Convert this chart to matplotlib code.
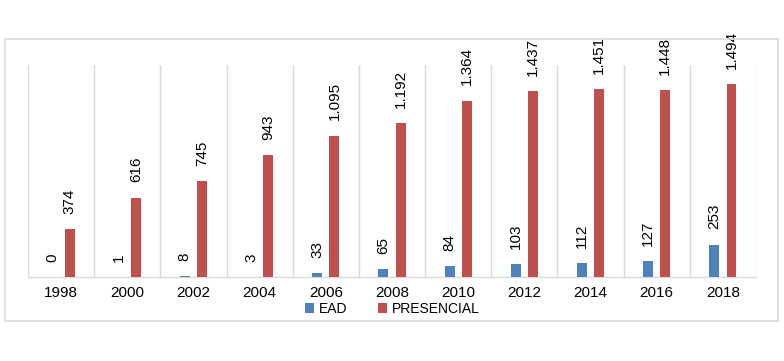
import numpy as np
import matplotlib.pyplot as plt
from matplotlib.patches import Rectangle

# data
years = ['1998', '2000', '2002', '2004', '2006', '2008', '2010', '2012', '2014', '2016', '2018']
ead = [0, 1, 8, 3, 33, 65, 84, 103, 112, 127, 253]
presencial = [374, 616, 745, 943, 1095, 1192, 1364, 1437, 1451, 1448, 1494]

blue = '#4F81BD'
red = '#C0504D'
grid_gray = '#D9D9D9'

plt.rcParams['font.family'] = ['Liberation Sans', 'DejaVu Sans']

W, H = 784, 361
fig = plt.figure(figsize=(W / 100, H / 100), dpi=100)

# outer chart border
fig.patches.append(Rectangle((5 / W, 1 - 321 / H), 773 / W, 282 / H,
                             transform=fig.transFigure, fill=False,
                             edgecolor=grid_gray, linewidth=1.2))

ax = fig.add_axes([28 / W, 1 - 277.3 / H, 728 / W, 212.3 / H])

x = np.arange(len(years))
w = 0.15
off = 0.13
b1 = ax.bar(x - off, ead, width=w, color=blue, label='EAD', zorder=3)
b2 = ax.bar(x + off, presencial, width=w, color=red, label='PRESENCIAL', zorder=3)

def fmt(v):
    return f'{v:,}'.replace(',', '.')

for bars, vals in [(b1, ead), (b2, presencial)]:
    for rect, v in zip(bars, vals):
        ax.annotate(fmt(v), (rect.get_x() + rect.get_width() / 2, rect.get_height()),
                    xytext=(0, 11), textcoords='offset points',
                    ha='center', va='bottom', rotation=90, fontsize=11,
                    color='black', annotation_clip=False)

ax.set_xlim(-0.5, len(years) - 0.5)
ax.set_ylim(0, 1640)
ax.set_xticks(x)
ax.set_xticklabels(years, fontsize=11)
ax.tick_params(axis='x', length=0, pad=6)
ax.set_yticks([])
ax.set_xticks(np.arange(-0.5, len(years), 1), minor=True)
ax.tick_params(axis='x', which='minor', length=0)
ax.grid(axis='x', which='minor', color=grid_gray, linewidth=1, zorder=0)

for s in ['top', 'left', 'right']:
    ax.spines[s].set_visible(False)
ax.spines['bottom'].set_color(grid_gray)
ax.spines['bottom'].set_linewidth(1)

fig.legend(loc='center', bbox_to_anchor=(392 / W, 1 - 309 / H), ncol=2,
           frameon=False, fontsize=10, handlelength=0.7, handleheight=0.7,
           handletextpad=0.3, columnspacing=2.2, borderpad=0)

fig.savefig('out.png', dpi=100)
